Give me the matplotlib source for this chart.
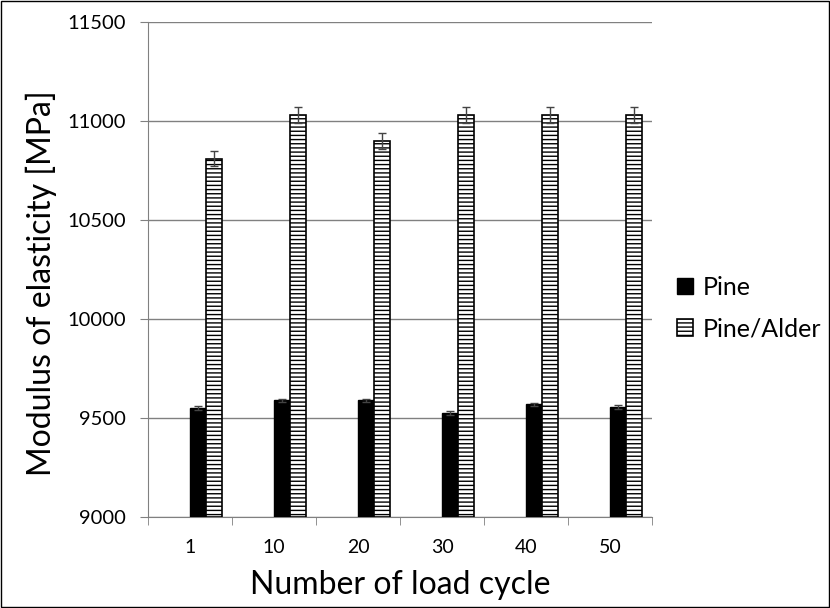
import numpy as np
import matplotlib.pyplot as plt
from matplotlib.patches import Rectangle

plt.rcParams['font.family'] = ['Lato', 'DejaVu Sans']
plt.rcParams['hatch.linewidth'] = 1.0

cycles = ["1", "10", "20", "30", "40", "50"]
pine = [9550, 9590, 9590, 9525, 9570, 9555]
pine_err = [8, 8, 8, 8, 8, 8]
alder = [10810, 11030, 10900, 11030, 11030, 11030]
alder_err = [40, 40, 40, 40, 40, 40]

fig = plt.figure(figsize=(8.3, 6.08), dpi=100)
ax = fig.add_axes([0.178, 0.1497, 0.608, 0.8143])

x = np.arange(len(cycles))
w = 0.19
ax.bar(x + w / 2, np.array(pine) - 9000, w, bottom=9000, color="black",
       edgecolor="black", linewidth=1, label="Pine", zorder=3)
ax.bar(x + 1.5 * w, np.array(alder) - 9000, w, bottom=9000, color="white",
       edgecolor="black", hatch="----", linewidth=1.2, label="Pine/Alder", zorder=3)
ax.errorbar(x + w / 2, pine, yerr=pine_err, fmt="none", ecolor="#444444",
            elinewidth=1, capsize=3, zorder=4)
ax.errorbar(x + 1.5 * w, alder, yerr=alder_err, fmt="none", ecolor="#444444",
            elinewidth=1, capsize=3, zorder=4)

ax.set_xlim(-0.5, len(cycles) - 0.5)
ax.set_ylim(9000, 11500)
ax.set_yticks(np.arange(9000, 11501, 500))
ax.yaxis.grid(True, color="#808080", linewidth=1, zorder=0)
ax.set_xticks(x)
ax.set_xticklabels(cycles, fontsize=14)
ax.set_xticks(np.arange(-0.5, len(cycles)), minor=True)
ax.tick_params(axis="x", which="major", length=0, pad=16)
ax.tick_params(axis="x", which="minor", length=6, color="#808080", direction="out")
ax.tick_params(axis="y", labelsize=14.5, length=6, color="#808080", direction="out", pad=10)
for s in ["top", "right"]:
    ax.spines[s].set_visible(False)
for s in ["left", "bottom"]:
    ax.spines[s].set_color("#808080")

ax.set_xlabel("Number of load cycle", fontsize=23)
ax.set_ylabel("Modulus of elasticity [MPa]", fontsize=23)
ax.xaxis.set_label_coords(0.5, -0.108)
ax.yaxis.set_label_coords(-0.179, 0.473)

ax.legend(loc="center left", bbox_to_anchor=(1.048, 0.422), frameon=False,
          fontsize=18, handlelength=0.64, handleheight=0.64, handletextpad=0.4,
          labelspacing=0.75, borderpad=0, borderaxespad=0)

fig.patches.append(Rectangle((0.001, 0.001), 0.998, 0.998, transform=fig.transFigure,
                             fill=False, edgecolor="black", linewidth=1))

fig.savefig("out.png", dpi=100)
